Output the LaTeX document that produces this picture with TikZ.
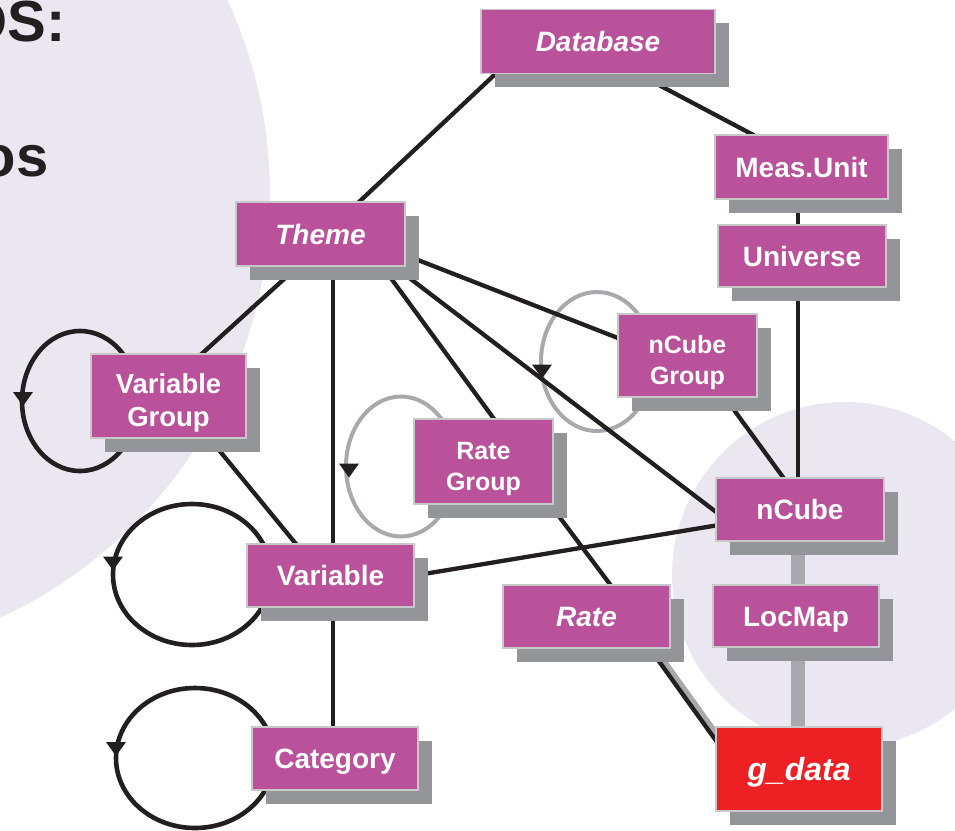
\documentclass[tikz,border=0pt]{standalone}
\usepackage{fontspec}
\setmainfont{Liberation Sans}
\usetikzlibrary{calc,shadows}

\definecolor{boxmag}{RGB}{185,81,155}
\definecolor{boxedge}{RGB}{200,200,202}
\definecolor{shgray}{RGB}{147,149,152}
\definecolor{lav}{RGB}{234,231,241}
\definecolor{ink}{RGB}{35,31,32}
\definecolor{loopgray}{RGB}{167,169,172}
\definecolor{gred}{RGB}{237,32,36}

\pgfdeclarelayer{backdrop}
\pgfdeclarelayer{links}
\pgfsetlayers{backdrop,links,main}

\newcommand\entfont{\fontsize{28}{32}\selectfont\bfseries}
\newcommand\vgfont{\fontsize{27.5}{33}\selectfont\bfseries}
\newcommand\pairfont{\fontsize{25}{31}\selectfont\bfseries}
\newcommand\headfont{\fontsize{58}{62}\selectfont\bfseries}
% invisible strut that lowers a two-line label inside its box
\newcommand\toplift[1]{\rule{0pt}{#1}}

\begin{document}
\begin{tikzpicture}[x=1pt,y=-1pt,
  ent/.style={rectangle, draw=boxedge, line width=1.3pt, fill=boxmag,
    text=white, font=\entfont, align=center, inner sep=0pt,
    general shadow={fill=shgray, shadow xshift=14pt, shadow yshift=-14pt}},
  oneline/.style={text height=20pt, text depth=0pt},
  twoline/.style={text depth=0pt},
  link/.style={draw=ink, line width=4.3pt, shorten <=-2pt, shorten >=-2pt},
  selfloop/.style={draw=ink, line width=4.6pt},
  softloop/.style={draw=loopgray, line width=4pt},
  gband/.style={draw=loopgray, line width=14pt},
  rband/.style={draw=loopgray, line width=9pt},
  looptip/.style={fill=ink},
  heading/.style={anchor=base west, inner sep=0pt, font=\headfont, text=ink},
]
\useasboundingbox (0,0) rectangle (955,830);
\clip (0,0) rectangle (955,830);

% soft background discs
\begin{pgfonlayer}{backdrop}
  \fill[lav] (-196,195) circle[radius=466];
  \fill[lav] (845,575) circle[radius=173];
\end{pgfonlayer}

% heading fragments at the left edge
\node[heading] (h1) at (-37.4,41) {OS:};
\node[heading] (h2) at (-19.6,176) {os};

% entities
\node[ent, oneline, minimum width=234pt, minimum height=64pt] (db) at (598,41.3) {\itshape Database};
\node[ent, oneline, minimum width=173pt, minimum height=64pt] (mu) at (801.5,167) {Meas.Unit};
\node[ent, oneline, minimum width=168pt, minimum height=62pt] (uni) at (802,256) {Universe};
\node[ent, oneline, minimum width=169pt, minimum height=64pt] (theme) at (320.5,234) {\itshape Theme};
\node[ent, twoline, font=\pairfont, minimum width=139pt, minimum height=83pt] (ncg) at (687.5,355.5) {\toplift{26pt}nCube\\Group};
\node[ent, twoline, font=\vgfont, minimum width=155pt, minimum height=84pt] (vg) at (168.5,396) {\toplift{28pt}Variable\\Group};
\node[ent, twoline, font=\pairfont, minimum width=139pt, minimum height=85pt] (rg) at (483.5,461.5) {\toplift{26pt}Rate\\Group};
\node[ent, oneline, minimum width=168pt, minimum height=63pt] (ncube) at (800,509.5) {nCube};
\node[ent, oneline, minimum width=167pt, minimum height=63pt] (var) at (330.5,575.5) {Variable};
\node[ent, oneline, minimum width=167pt, minimum height=63pt] (rate) at (586.5,616.5) {\itshape Rate};
\node[ent, oneline, minimum width=166pt, minimum height=62pt] (loc) at (796,616) {LocMap};
\node[ent, oneline, minimum width=166pt, minimum height=63pt] (cat) at (335,758.5) {Category};
\node[ent, fill=gred, font=\fontsize{32}{36}\selectfont\bfseries\itshape,
      text height=23pt, text depth=0pt, minimum width=166pt, minimum height=84pt] (gdata) at (799,769) {g\_data};

% self-loop centres
\coordinate (vgc) at (80,401);
\coordinate (varc) at (192,574.5);
\coordinate (catc) at (195,758);
\coordinate (ncgc) at (597,361.5);
\coordinate (rgc) at (401,466.5);

\begin{pgfonlayer}{links}
  % grey self-loops
  \draw[softloop] (ncgc) ellipse [x radius=56, y radius=69.5];
  \draw[softloop] (rgc) ellipse [x radius=55, y radius=70];

  % thick grey links
  \draw[gband] ($(ncube.south)+(-2,0)$) -- ($(loc.north)+(2,0)$);
  \draw[gband] ($(loc.south)+(2,0)$) -- ($(gdata.north)+(-1,0)$);
  \draw[rband] ($(rate.south west)!.877!(rate.south east)+(2,-1.5)$) -- ($(gdata.north west)!.157!(gdata.south west)+(2,-1.5)$);

  % black links
  \draw[link] ($(db.south west)!.064!(db.south east)$) -- ($(theme.north west)!.73!(theme.north east)$);
  \draw[link] ($(db.south west)!.67!(db.south east)$) -- ($(mu.north west)!.217!(mu.north east)$);
  \draw[link] ($(mu.south)+(-3.5,0)$) -- ($(uni.north)+(-4,0)$);
  \draw[link] ($(uni.south)+(-4,0)$) -- ($(ncube.north)+(-2,0)$);
  \draw[link] ($(theme.south west)!.366!(theme.south east)$) -- ($(vg.north west)!.716!(vg.north east)$);
  \draw[link] ($(theme.south)+(12.5,0)$) -- ($(cat.north)+(-2,0)$);
  \draw[link] ($(theme.south west)!.864!(theme.south east)$) -- ($(rg.north west)!.572!(rg.north east)$);
  \draw[link] ($(theme.south west)!.935!(theme.south east)$) -- ($(ncube.north west)!.53!(ncube.south west)$);
  \draw[link] ($(theme.north east)!.825!(theme.south east)$) -- ($(ncg.north west)!.29!(ncg.south west)$);
  \draw[link] ($(vg.south west)!.763!(vg.south east)$) -- ($(var.north west)!.292!(var.north east)$);
  \draw[link] (var.east) -- ($(ncube.north west)!.75!(ncube.south west)$);
  \draw[link] ($(ncg.south west)!.768!(ncg.south east)$) -- ($(ncube.north west)!.40!(ncube.north east)$);
  \draw[link] ($(rg.south west)!.975!(rg.south east)$) -- ($(rate.north west)!.64!(rate.north east)$);
  \draw[link] ($(rate.south west)!.877!(rate.south east)$) -- ($(gdata.north west)!.157!(gdata.south west)$);

  % black self-loops
  \draw[selfloop] (vgc) ellipse [x radius=58, y radius=70];
  \draw[selfloop] (varc) ellipse [x radius=79, y radius=70.5];
  \draw[selfloop] (catc) ellipse [x radius=79, y radius=70];

  % loop direction marks
  \fill[looptip] ($(vgc)+(-57,-9)$) -- ++(-10,0) -- ++(10,14) -- ++(10,-14) -- cycle;
  \fill[looptip] ($(varc)+(-79,-18)$) -- ++(-10,0) -- ++(10,14) -- ++(10,-14) -- cycle;
  \fill[looptip] ($(catc)+(-79,-16)$) -- ++(-10,0) -- ++(10,14) -- ++(10,-14) -- cycle;
  \fill[looptip] ($(ncgc)+(-55,3)$) -- ++(-10,0) -- ++(10,14) -- ++(10,-14) -- cycle;
  \fill[looptip] ($(rgc)+(-52,-3)$) -- ++(-10,0) -- ++(10,14) -- ++(10,-14) -- cycle;
\end{pgfonlayer}
\end{tikzpicture}
\end{document}
